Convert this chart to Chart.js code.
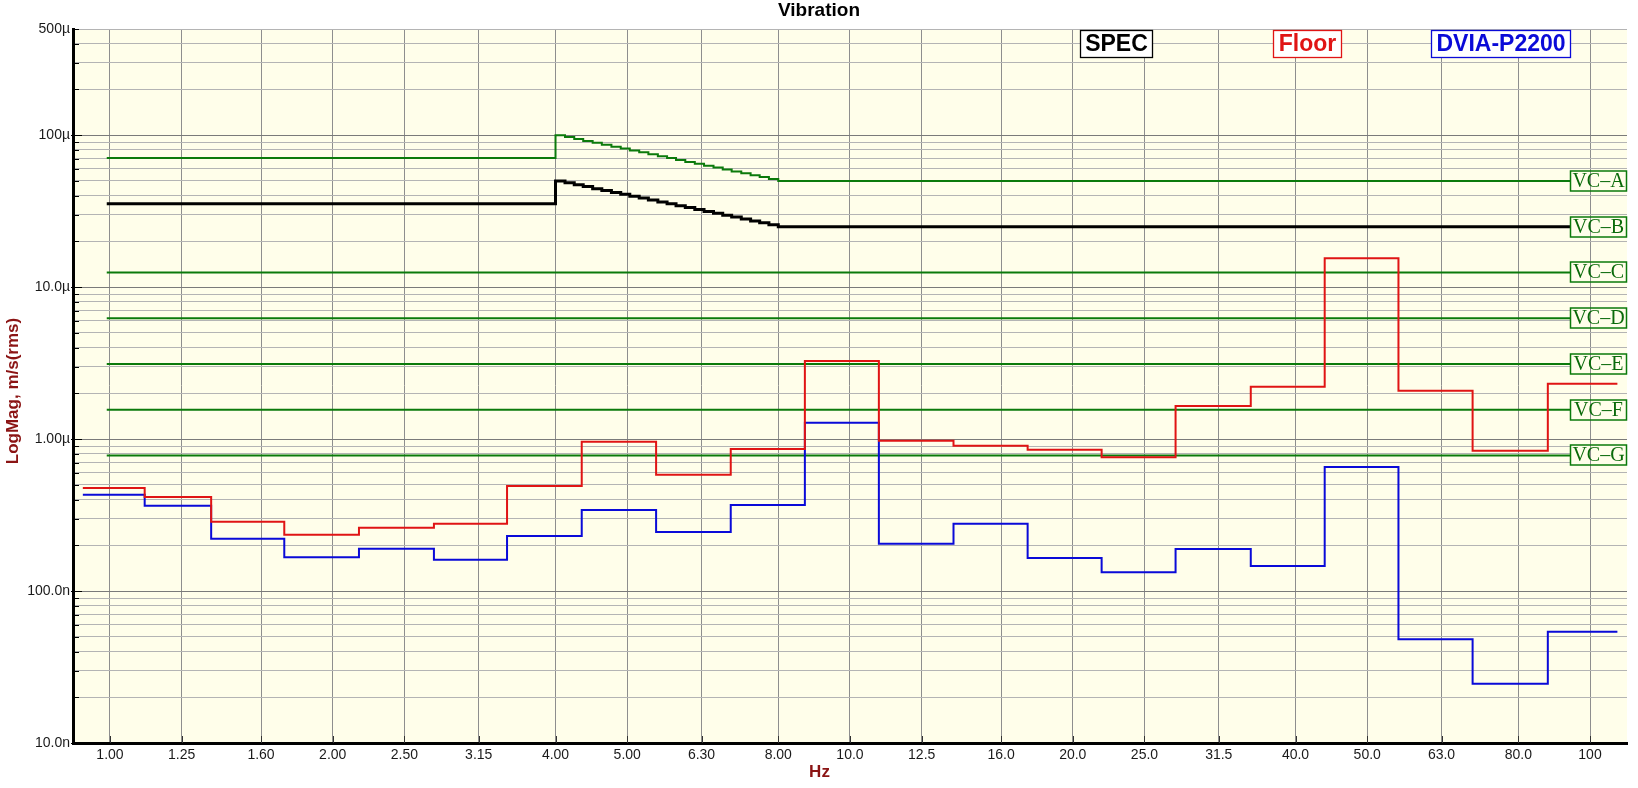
<!DOCTYPE html>
<html>
<head>
<meta charset="utf-8">
<title>Vibration</title>
<script src="https://cdn.jsdelivr.net/npm/chart.js@4.4.1/dist/chart.umd.min.js"></script>
<style>
  html, body { margin: 0; padding: 0; background: #ffffff; }
  #chart { display: block; }
</style>
</head>
<body>
<canvas id="chart" width="1638" height="788"></canvas>
<script>
// third-octave bands shown on the x axis
const bandLabels = ['1.00', '1.25', '1.60', '2.00', '2.50', '3.15', '4.00', '5.00', '6.30', '8.00',
  '10.0', '12.5', '16.0', '20.0', '25.0', '31.5', '40.0', '50.0', '63.0', '80.0', '100'];
const bandHz = [1, 1.25, 1.6, 2, 2.5, 3.15, 4, 5, 6.3, 8, 10, 12.5, 16, 20, 25, 31.5, 40, 50, 63, 80, 100];

const stepEdgesHz = [0.919, 1.114, 1.37, 1.72, 2.17, 2.74, 3.44, 4.34, 5.47, 6.90, 8.69,
  10.94, 13.8, 17.38, 21.88, 27.54, 34.8, 43.8, 55.1, 69.4, 87.7, 108.9];

// measured spectra, um/s rms, one value per band
const floorVel = [0.476, 0.416, 0.286, 0.235, 0.261, 0.277, 0.491, 0.962, 0.583, 0.861, 3.27,
  0.975, 0.905, 0.851, 0.759, 1.65, 2.21, 15.5, 2.08, 0.838, 2.31];
const dviaVel = [0.431, 0.364, 0.221, 0.167, 0.190, 0.161, 0.230, 0.341, 0.245, 0.368, 1.28,
  0.205, 0.277, 0.165, 0.133, 0.189, 0.146, 0.655, 0.0481, 0.0245, 0.0540];

// SPEC (VC-B) and VC-A curves, um/s
const curveHz = [0.99, 4.00, 4.12, 4.24, 4.36, 4.49, 4.62, 4.76, 4.90, 5.04, 5.19, 5.34, 5.50,
  5.66, 5.82, 5.99, 6.17, 6.35, 6.54, 6.73, 6.92, 7.13, 7.34, 7.55, 7.77, 8.00, 100];
const specVel = [35.4, 50.0, 48.6, 47.2, 45.9, 44.5, 43.3, 42.0, 40.9, 39.7, 38.6, 37.5, 36.4,
  35.4, 34.4, 33.4, 32.4, 31.5, 30.6, 29.7, 28.9, 28.1, 27.3, 26.5, 25.7, 25.0, 25.0];
const vcaVel = [70.7, 100, 97.2, 94.4, 91.7, 89.1, 86.6, 84.1, 81.7, 79.4, 77.1, 74.9, 72.8,
  70.7, 68.7, 66.7, 64.8, 63.0, 61.2, 59.5, 57.8, 56.1, 54.5, 53.0, 51.5, 50.0, 50.0];

// flat VC criteria
const flatHz = [0.99, 100];
const vcNames = ['VC\u2013A', 'VC\u2013B', 'VC\u2013C', 'VC\u2013D', 'VC\u2013E', 'VC\u2013F', 'VC\u2013G'];
const vcLevel = [50, 25, 12.5, 6.25, 3.12, 1.56, 0.78];

// y axis ticks (m/s) and labels
const yTickVals = [1e-8, 2e-8, 3e-8, 4e-8, 5e-8, 6e-8, 7e-8, 8e-8, 9e-8,
  1e-7, 2e-7, 3e-7, 4e-7, 5e-7, 6e-7, 7e-7, 8e-7, 9e-7,
  1e-6, 2e-6, 3e-6, 4e-6, 5e-6, 6e-6, 7e-6, 8e-6, 9e-6,
  1e-5, 2e-5, 3e-5, 4e-5, 5e-5, 6e-5, 7e-5, 8e-5, 9e-5,
  1e-4, 2e-4, 3e-4, 4e-4, 5e-4];
const yTickLabels = ['10.0n', '', '', '', '', '', '', '', '',
  '100.0n', '', '', '', '', '', '', '', '',
  '1.00\u00b5', '', '', '', '', '', '', '', '',
  '10.0\u00b5', '', '', '', '', '', '', '', '',
  '100\u00b5', '', '', '', '500\u00b5'];

const GREEN = '#0b7a0b';
const RED = '#e01414';
const BLUE = '#0a0ad8';
const AXIS_RED = '#8b1414';
const PLOT_BG = '#fffeea';

function toSteps(edges, vals) {
  return edges.map(function (e, i) {
    return { x: e, y: vals[Math.min(i, vals.length - 1)] * 1e-6 };
  });
}
function toPoints(xs, vals) {
  return xs.map(function (x, i) { return { x: x, y: vals[i] * 1e-6 }; });
}
function isDecade(v) {
  var l = Math.log10(v);
  return Math.abs(l - Math.round(l)) < 1e-6;
}

var datasets = [
  { label: 'Floor', data: toSteps(stepEdgesHz, floorVel), borderColor: RED, borderWidth: 2 },
  { label: 'DVIA-P2200', data: toSteps(stepEdgesHz, dviaVel), borderColor: BLUE, borderWidth: 2 },
  { label: 'SPEC', data: toPoints(curveHz, specVel), borderColor: '#000000', borderWidth: 3 },
  { label: 'VC-A', data: toPoints(curveHz, vcaVel), borderColor: GREEN, borderWidth: 2 }
];
for (var k = 2; k < vcLevel.length; k++) {
  datasets.push({
    label: vcNames[k],
    data: toPoints(flatHz, [vcLevel[k], vcLevel[k]]),
    borderColor: GREEN,
    borderWidth: 2
  });
}
datasets.forEach(function (d) {
  d.stepped = true;
  d.pointRadius = 0;
  d.fill = false;
  d.borderCapStyle = 'butt';
  d.borderJoinStyle = 'miter';
});

// background, titles, legend boxes, VC tags, axis tick marks
const decorations = {
  id: 'decorations',
  beforeDraw: function (chart) {
    var a = chart.chartArea;
    var ctx = chart.ctx;
    ctx.save();
    ctx.fillStyle = PLOT_BG;
    ctx.fillRect(a.left, a.top, a.right - a.left, a.bottom - a.top);
    ctx.restore();
  },
  afterDraw: function (chart) {
    var ctx = chart.ctx;
    var a = chart.chartArea;
    var xs = chart.scales.x;
    var ys = chart.scales.y;
    ctx.save();

    // tick marks inside the plot
    ctx.strokeStyle = '#000000';
    ctx.lineWidth = 1;
    yTickVals.forEach(function (v) {
      var y = Math.round(ys.getPixelForValue(v)) + 0.5;
      var big = isDecade(v);
      ctx.beginPath();
      ctx.moveTo(big ? a.left - 2 : a.left, y);
      ctx.lineTo(a.left + (big ? 9 : 6), y);
      ctx.stroke();
    });
    ctx.strokeStyle = '#333333';
    bandHz.forEach(function (f) {
      var x = Math.round(xs.getPixelForValue(f)) + 0.5;
      ctx.beginPath();
      ctx.moveTo(x, a.bottom - 7);
      ctx.lineTo(x, a.bottom);
      ctx.stroke();
    });

    // title
    ctx.fillStyle = '#000000';
    ctx.textAlign = 'center';
    ctx.textBaseline = 'middle';
    ctx.font = 'bold 19px "Liberation Sans", Arial, sans-serif';
    ctx.fillText('Vibration', 819, 11);

    // axis titles
    ctx.fillStyle = AXIS_RED;
    ctx.font = 'bold 17px "Liberation Sans", Arial, sans-serif';
    ctx.fillText('Hz', 819.5, 772);
    ctx.save();
    ctx.translate(13, 391);
    ctx.rotate(-Math.PI / 2);
    ctx.fillText('LogMag, m/s(rms)', 0, 0);
    ctx.restore();

    // legend boxes
    var legend = [
      { text: 'SPEC', color: '#000000', x: 1080.5, w: 72 },
      { text: 'Floor', color: RED, x: 1273.5, w: 68 },
      { text: 'DVIA-P2200', color: BLUE, x: 1431.5, w: 139 }
    ];
    ctx.font = 'bold 23px "Liberation Sans", Arial, sans-serif';
    legend.forEach(function (l) {
      ctx.fillStyle = '#ffffff';
      ctx.fillRect(l.x, 30.5, l.w, 27);
      ctx.strokeStyle = l.color;
      ctx.lineWidth = 1.3;
      ctx.strokeRect(l.x, 30.5, l.w, 27);
      ctx.fillStyle = l.color;
      ctx.fillText(l.text, l.x + l.w / 2, 45);
    });

    // VC tags on the right
    var gx = Math.round(xs.getPixelForValue(100)) + 0.5;
    ctx.font = '20px "Liberation Serif", "Times New Roman", serif';
    vcLevel.forEach(function (v, i) {
      var y = Math.round(ys.getPixelForValue(v * 1e-6));
      var bx = 1570.5, bw = 56, by = y - 10, bh = 20;
      ctx.fillStyle = PLOT_BG;
      ctx.fillRect(bx, by, bw, bh);
      ctx.strokeStyle = '#909090';
      ctx.lineWidth = 1;
      ctx.beginPath();
      ctx.moveTo(gx, by);
      ctx.lineTo(gx, by + bh);
      ctx.stroke();
      ctx.strokeStyle = GREEN;
      ctx.lineWidth = 1.5;
      ctx.strokeRect(bx, by, bw, bh);
      ctx.fillStyle = '#0a6a0a';
      ctx.fillText(vcNames[i], bx + bw / 2, y + 1);
    });
    ctx.restore();
  }
};

new Chart(document.getElementById('chart').getContext('2d'), {
  type: 'line',
  data: { datasets: datasets },
  plugins: [decorations],
  options: {
    responsive: false,
    animation: false,
    devicePixelRatio: 1,
    layout: { padding: { top: 29, right: 11, left: 0, bottom: 0 } },
    plugins: {
      legend: { display: false },
      title: { display: false },
      tooltip: { enabled: false }
    },
    scales: {
      x: {
        type: 'logarithmic',
        position: 'bottom',
        bounds: 'data',
        min: 0.8913,
        max: 112.2,
        afterFit: function (s) { s.height = 45; },
        afterBuildTicks: function (s) {
          s.ticks = bandHz.map(function (v) { return { value: v }; });
        },
        ticks: {
          autoSkip: false,
          maxRotation: 0,
          minRotation: 0,
          padding: 4,
          color: '#1a1a1a',
          font: { family: '"Liberation Sans", Arial, sans-serif', size: 14 },
          callback: function (v, i) { return bandLabels[i]; }
        },
        grid: { color: '#8e8e8e', lineWidth: 1, drawTicks: false },
        border: { display: true, color: '#000000', width: 3 }
      },
      y: {
        type: 'logarithmic',
        position: 'left',
        bounds: 'data',
        min: 1e-8,
        max: 5e-4,
        afterFit: function (s) { s.width = 73; },
        afterBuildTicks: function (s) {
          s.ticks = yTickVals.map(function (v) { return { value: v }; });
        },
        ticks: {
          autoSkip: false,
          padding: 3,
          color: '#1a1a1a',
          font: { family: '"Liberation Sans", Arial, sans-serif', size: 14 },
          callback: function (v, i) { return yTickLabels[i]; }
        },
        grid: {
          drawTicks: false,
          lineWidth: 1,
          color: function (c) {
            return c.tick && isDecade(c.tick.value) ? '#7a7a7a' : '#b4b4b4';
          }
        },
        border: { display: true, color: '#000000', width: 3 }
      }
    }
  }
});
</script>
</body>
</html>
